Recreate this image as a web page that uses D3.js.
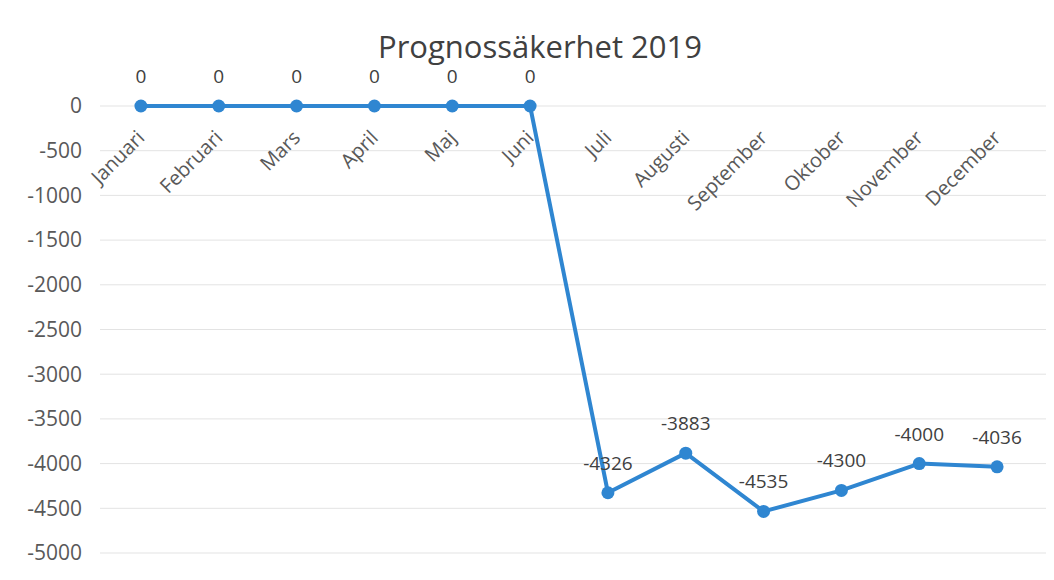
<!DOCTYPE html>
<html>
<head>
<meta charset="utf-8">
<script src="https://cdn.jsdelivr.net/npm/d3@7"></script>
<style>
  body { margin: 0; background: #fff; }
  svg { display: block; font-family: "Open Sans", sans-serif; }
</style>
</head>
<body>
<svg id="chart" width="1054" height="580"></svg>
<script>
const months = ['Januari', 'Februari', 'Mars', 'April', 'Maj', 'Juni',
  'Juli', 'Augusti', 'September', 'Oktober', 'November', 'December'];
const values = [0, 0, 0, 0, 0, 0, -4326, -3883, -4535, -4300, -4000, -4036];
const yTicks = [0, -500, -1000, -1500, -2000, -2500, -3000, -3500, -4000, -4500, -5000];

const svg = d3.select('#chart');
const blue = '#2f86d1';

const x = d3.scaleBand().domain(months).range([102, 1036]);
const y = d3.scaleLinear().domain([-5000, 0]).range([553, 106]);
const cx = m => x(m) + x.bandwidth() / 2;

// gridlines
svg.append('g').selectAll('line').data(yTicks).join('line')
  .attr('x1', 100).attr('x2', 1046)
  .attr('y1', d => y(d)).attr('y2', d => y(d))
  .attr('stroke', '#e3e3e3').attr('stroke-width', 1);

// y labels
svg.append('g').selectAll('text').data(yTicks).join('text')
  .attr('x', 82).attr('y', d => y(d)).attr('dy', '0.35em')
  .attr('text-anchor', 'end')
  .attr('font-size', 21).attr('fill', '#595959')
  .text(d => d);

// month labels, rotated, hanging under the zero line
svg.append('g').selectAll('text').data(months).join('text')
  .attr('transform', d => `translate(${cx(d) + 5},${y(0) + 33}) rotate(-45)`)
  .attr('text-anchor', 'end')
  .attr('font-size', 20).attr('fill', '#595959')
  .text(d => d);

// line
const line = d3.line().x((d, i) => cx(months[i])).y(d => y(d));
svg.append('path').datum(values)
  .attr('d', line)
  .attr('fill', 'none').attr('stroke', blue)
  .attr('stroke-width', 4).attr('stroke-linejoin', 'round');

svg.append('g').selectAll('circle').data(values).join('circle')
  .attr('cx', (d, i) => cx(months[i])).attr('cy', d => y(d))
  .attr('r', 6.5).attr('fill', blue);

// data labels
svg.append('g').selectAll('text').data(values).join('text')
  .attr('x', (d, i) => cx(months[i])).attr('y', d => y(d) - 23)
  .attr('text-anchor', 'middle')
  .attr('font-size', 19).attr('fill', '#404040')
  .text(d => d);

// title
svg.append('text')
  .attr('x', 540).attr('y', 58)
  .attr('text-anchor', 'middle')
  .attr('font-size', 31).attr('fill', '#404040')
  .text('Prognossäkerhet 2019');
</script>
</body>
</html>
